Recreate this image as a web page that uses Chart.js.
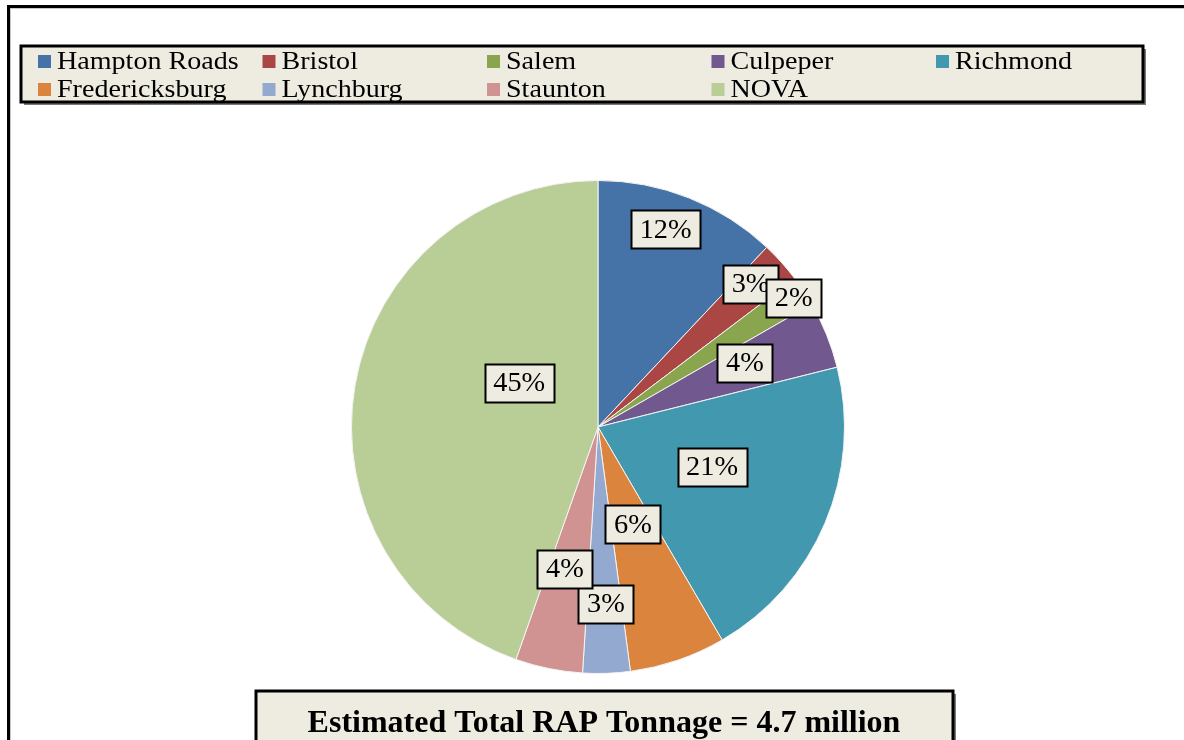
<!DOCTYPE html>
<html>
<head>
<meta charset="utf-8">
<script src="https://cdn.jsdelivr.net/npm/chart.js@4/dist/chart.umd.min.js"></script>
<style>
  html, body { margin: 0; padding: 0; background: #ffffff; }
  #wrap { width: 1184px; height: 740px; position: relative; overflow: hidden; }
</style>
</head>
<body>
<div id="wrap"><canvas id="c" width="1184" height="740"></canvas></div>
<script>
// ---- data ----
const categories = ["Hampton Roads", "Bristol", "Salem", "Culpeper", "Richmond",
                    "Fredericksburg", "Lynchburg", "Staunton", "NOVA"];
const shares = [12.0, 2.7, 2.0, 4.4, 20.5, 6.3, 3.1, 4.4, 44.6];   // percent of total RAP tonnage
const sliceColors = ["#4572A7", "#AA4643", "#89A54E", "#71588F", "#4198AF",
                     "#DB843D", "#93A9CF", "#D19392", "#B9CD96"];
const footerText = "Estimated Total RAP Tonnage = 4.7 million";

// ---- label placement (style: radial fraction, angle shift in degrees) ----
const labelRadial = [0.847, 0.848, 0.952, 0.65, 0.49, 0.42, 0.72, 0.59, 0.366];
const labelShift  = [-2.7, -1.2, 0, -1.5, -3.7, -0.8, -0.6, 1.6, 19.4];

const BOX_FILL = "#EEECE1";
const SERIF = "'Liberation Serif', 'DejaVu Serif', serif";

function wideText(ctx, txt, x, y, sx) {
  ctx.save();
  ctx.translate(x, y);
  ctx.scale(sx, 1);
  ctx.fillText(txt, 0, 0);
  ctx.restore();
}

const framePlugin = {
  id: "frame",
  beforeDraw(chart) {
    const ctx = chart.ctx;
    ctx.save();
    ctx.fillStyle = "#ffffff";
    ctx.fillRect(0, 0, chart.width, chart.height);
    ctx.strokeStyle = "#c8c8c8";
    ctx.lineWidth = 1;
    ctx.strokeRect(10.5, 8.5, 1300, 900);
    ctx.strokeStyle = "#000000";
    ctx.lineWidth = 3;
    ctx.strokeRect(8.5, 6.5, 1300, 900);
    ctx.restore();
  },
  afterDraw(chart) {
    const ctx = chart.ctx;
    ctx.save();
    // ---- legend box ----
    const lx = 21, ly = 46, lw = 1122, lh = 56;
    ctx.fillStyle = "#7a7a7a";
    ctx.fillRect(lx + 3, ly + 3, lw, lh);
    ctx.fillStyle = BOX_FILL;
    ctx.fillRect(lx, ly, lw, lh);
    ctx.strokeStyle = "#000";
    ctx.lineWidth = 3;
    ctx.strokeRect(lx, ly, lw, lh);
    const colX0 = 38, colStep = 224.5, rowY = [61.5, 89.5];
    ctx.font = "26px " + SERIF;
    ctx.textBaseline = "middle";
    ctx.textAlign = "left";
    categories.forEach((name, i) => {
      const col = i % 5, row = Math.floor(i / 5);
      const x = colX0 + col * colStep, y = rowY[row];
      ctx.fillStyle = sliceColors[i];
      ctx.fillRect(x, y - 6.5, 13, 13);
      ctx.fillStyle = "#000";
      wideText(ctx, name, x + 19, y + 1, 1.08);
    });
    // ---- footer box ----
    const fx = 256, fy = 691, fw = 697, fh = 80;
    ctx.fillStyle = "#7a7a7a";
    ctx.fillRect(fx + 3, fy + 3, fw, fh);
    ctx.fillStyle = BOX_FILL;
    ctx.fillRect(fx, fy, fw, fh);
    ctx.strokeStyle = "#000";
    ctx.lineWidth = 3;
    ctx.strokeRect(fx, fy, fw, fh);
    ctx.fillStyle = "#000";
    ctx.font = "bold 32px " + SERIF;
    ctx.textAlign = "center";
    ctx.textBaseline = "alphabetic";
    ctx.fillText(footerText, 604, 732);
    ctx.restore();
  }
};

const labelPlugin = {
  id: "sliceLabels",
  afterDatasetsDraw(chart) {
    const ctx = chart.ctx;
    const meta = chart.getDatasetMeta(0);
    const data = chart.data.datasets[0].data;
    const total = data.reduce((a, b) => a + b, 0);
    ctx.save();
    ctx.font = "27px " + SERIF;
    ctx.textAlign = "center";
    ctx.textBaseline = "middle";
    meta.data.forEach((arc, i) => {
      const p = arc.getProps(["x", "y", "startAngle", "endAngle", "outerRadius"], true);
      const mid = (p.startAngle + p.endAngle) / 2 + labelShift[i] * Math.PI / 180;
      const r = p.outerRadius * labelRadial[i];
      const cx = p.x + Math.cos(mid) * r;
      const cy = p.y + Math.sin(mid) * r;
      const txt = Math.round(data[i] / total * 100) + "%";
      const tw = ctx.measureText(txt).width * 1.05;
      const bw = Math.round(tw + 17), bh = 38;
      const bx = Math.round(cx - bw / 2) + 0.5, by = Math.round(cy - bh / 2) + 0.5;
      ctx.fillStyle = BOX_FILL;
      ctx.fillRect(bx, by, bw, bh);
      ctx.strokeStyle = "#000";
      ctx.lineWidth = 2;
      ctx.strokeRect(bx, by, bw, bh);
      ctx.fillStyle = "#000";
      ctx.textAlign = "left";
      wideText(ctx, txt, cx - tw / 2, cy + 1, 1.05);
    });
    ctx.restore();
  }
};

new Chart(document.getElementById("c"), {
  type: "pie",
  data: {
    labels: categories,
    datasets: [{
      data: shares,
      backgroundColor: sliceColors,
      borderColor: "#f4f4f4",
      borderWidth: 1
    }]
  },
  options: {
    responsive: false,
    devicePixelRatio: 1,
    animation: false,
    layout: { padding: { top: 180, bottom: 66, left: 351, right: 339 } },
    plugins: {
      legend: { display: false },
      tooltip: { enabled: false },
      title: { display: false }
    }
  },
  plugins: [framePlugin, labelPlugin]
});
</script>
</body>
</html>
